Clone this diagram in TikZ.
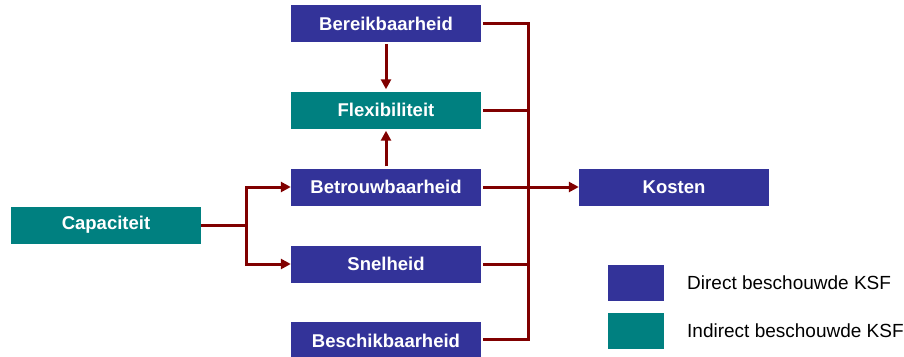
\documentclass[tikz,border=0pt]{standalone}
\usepackage{fontspec}
\setmainfont{Liberation Sans}
\usetikzlibrary{arrows.meta}
\definecolor{kblue}{RGB}{51,51,153}
\definecolor{kteal}{RGB}{0,128,128}
\definecolor{kred}{RGB}{128,0,0}
\begin{document}
\begin{tikzpicture}[x=1pt,y=-1pt,
  box/.style={minimum width=190pt,minimum height=37pt,inner sep=0pt,text=white,font=\fontsize{18.5}{22}\selectfont\bfseries},
  dbox/.style={box,fill=kblue},
  ibox/.style={box,fill=kteal},
  conn/.style={draw=kred,line width=3pt},
  arr/.style={conn,-{Triangle[length=10pt,width=10pt]}},
  legtext/.style={anchor=west,inner sep=0pt,font=\fontsize{19}{22}\selectfont}]
\useasboundingbox (0,0) rectangle (904,356);
\node[dbox] (bere) at (386,23.5) {Bereikbaarheid};
\node[ibox] (flex) at (386,110) {Flexibiliteit};
\node[dbox] (betr) at (386,187) {Betrouwbaarheid};
\node[dbox] (snel) at (386,264) {Snelheid};
\node[dbox] (besc) at (386,340.5) {Beschikbaarheid};
\node[ibox] (capa) at (106,225) {Capaciteit};
\node[dbox] (kost) at (674,187) {Kosten};
\node[fill=kblue,minimum width=56pt,minimum height=36pt,inner sep=0pt] (ld) at (636,283) {};
\node[fill=kteal,minimum width=56pt,minimum height=36pt,inner sep=0pt] (li) at (636,331) {};
\node[legtext] (ldt) at (687,283) {Direct beschouwde KSF};
\node[legtext] (lit) at (687,331) {Indirect beschouwde KSF};
\coordinate (j) at (528,187);
\coordinate (c) at (246,225);
% left fan
\draw[conn] (capa.east) -- (c);
\draw[arr] (c) |- (betr.west);
\draw[arr] (c) |- (snel.west);
% vertical arrows
\draw[arr,shorten <=2pt,shorten >=2pt] (bere.south) -- (flex.north);
\draw[arr,shorten <=2pt,shorten >=2pt] (betr.north) -- (flex.south);
% right bus
\draw[conn] ([xshift=2pt]bere.east) -| (j);
\draw[conn] ([xshift=2pt]flex.east) -| (j);
\draw[conn] ([xshift=2pt]snel.east) -| (j);
\draw[conn] ([xshift=2pt,yshift=1.5pt]besc.east) -| (j);
\draw[arr] ([xshift=2pt]betr.east) -- (kost.west);
\end{tikzpicture}
\end{document}
